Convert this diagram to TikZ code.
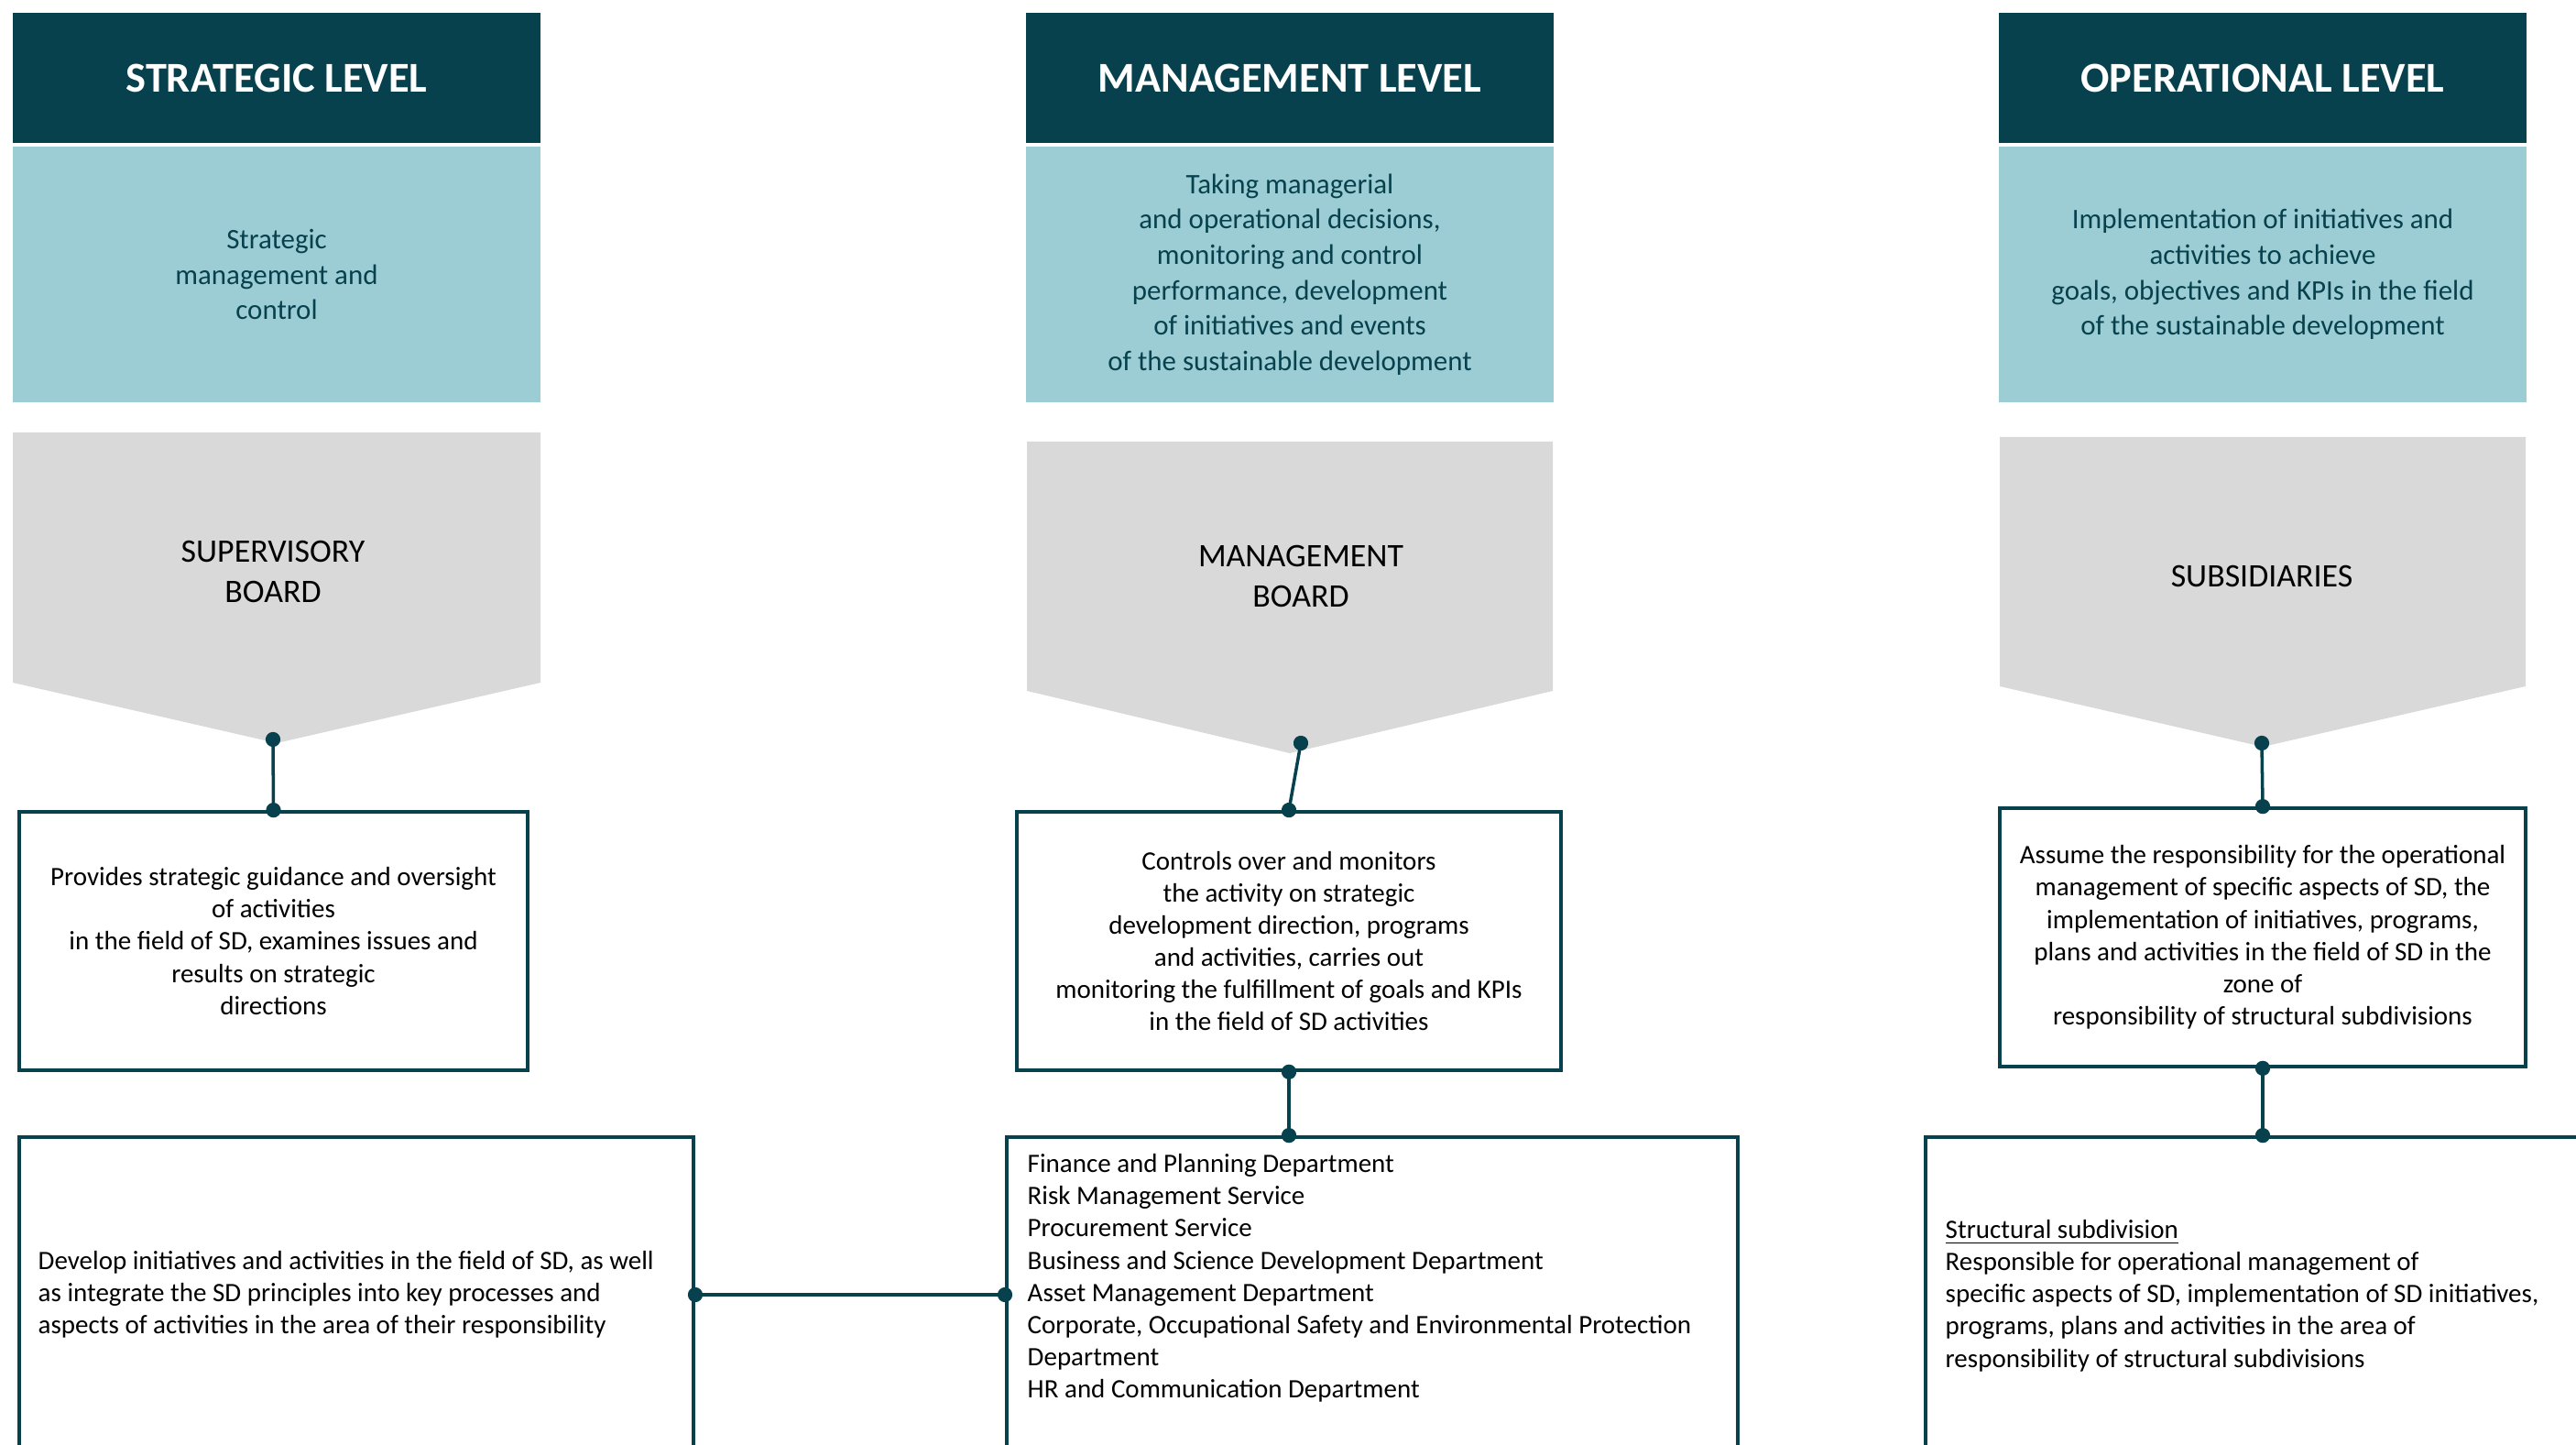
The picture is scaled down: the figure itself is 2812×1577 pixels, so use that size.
\documentclass[tikz,border=0pt]{standalone}
\usepackage{fontspec}
\setmainfont{Carlito}
\usetikzlibrary{arrows.meta,positioning}

\definecolor{darkteal}{HTML}{06414D}
\definecolor{lightteal}{HTML}{9DCDD4}
\definecolor{chevgray}{HTML}{D9D9D9}

\tikzset{
  levelhead/.style={fill=darkteal,text=white,minimum width=5.76cm,minimum height=1.42cm,
    font=\fontsize{13.2}{16}\selectfont\bfseries,inner sep=0pt},
  levelnote/.style={fill=lightteal,text=darkteal,minimum width=5.76cm,minimum height=2.79cm,
    align=center,font=\fontsize{8.8}{11}\selectfont,inner sep=0pt},
  boardname/.style={align=center,font=\fontsize{10.2}{12.4}\selectfont},
  rolebox/.style={draw=darkteal,line width=1pt,minimum height=2.82cm,align=center,
    font=\fontsize{8.25}{10}\selectfont,inner sep=0pt},
  unitbox/.style={draw=darkteal,line width=1pt,minimum height=3.44cm,inner sep=0pt},
  unittext/.style={align=left,font=\fontsize{8.25}{10}\selectfont,inner sep=0pt,anchor=west},
  link/.style={darkteal,line width=1pt,shorten <=-2.3pt,shorten >=-2.3pt,
    {Circle[length=4.6pt]}-{Circle[length=4.6pt]}}
}

\begin{document}
\begin{tikzpicture}[x=0.01cm,y=-0.01cm]
\useasboundingbox (0,0) rectangle (2812,1577);
\clip (0,0) rectangle (2812,1577);

% level headers
\node[levelhead] (headS) at (302,85) {STRATEGIC LEVEL};
\node[levelhead] (headM) at (1408,85) {MANAGEMENT LEVEL};
\node[levelhead] (headO) at (2470,85) {OPERATIONAL LEVEL};

\node[levelnote] (noteS) at (302,299.5) {Strategic\\ management and\\ control};
\node[levelnote] (noteM) at (1408,299.5) {Taking managerial\\ and operational decisions,\\ monitoring and control\\ performance, development\\ of initiatives and events\\ of the sustainable development};
\node[levelnote] (noteO) at (2470,299.5) {Implementation of initiatives and\\ activities to achieve\\ goals, objectives and KPIs in the field\\ of the sustainable development};

% boards
\fill[chevgray] (14,472) -- (590,472) -- (590,745) -- (302,811) -- (14,745) -- cycle;
\fill[chevgray] (1121,482) -- (1695,482) -- (1695,754) -- (1408,822) -- (1121,754) -- cycle;
\fill[chevgray] (2183,477) -- (2757,477) -- (2757,749) -- (2470,815) -- (2183,749) -- cycle;
\node[boardname] (boardS) at (298,624) {SUPERVISORY\\ BOARD};
\node[boardname] (boardM) at (1420,629) {MANAGEMENT\\ BOARD};
\node[boardname] (boardO) at (2469,629) {SUBSIDIARIES};
\coordinate (tipS) at (298,807);
\coordinate (tipM) at (1420,811);
\coordinate (tipO) at (2469,811);

% roles
\node[rolebox,minimum width=5.55cm] (roleS) at (298.5,1027) {Provides strategic guidance and oversight\\ of activities\\ in the field of SD, examines issues and\\ results on strategic\\ directions};
\node[rolebox,minimum width=5.94cm] (roleM) at (1407,1027) {Controls over and monitors\\ the activity on strategic\\ development direction, programs\\ and activities, carries out\\ monitoring the fulfillment of goals and KPIs\\ in the field of SD activities};
\node[rolebox,minimum width=5.74cm] (roleO) at (2470,1023) {Assume the responsibility for the operational\\ management of specific aspects of SD, the\\ implementation of initiatives, programs,\\ plans and activities in the field of SD in the\\ zone of\\ responsibility of structural subdivisions};

% units
\node[unitbox,minimum width=7.36cm] (unitS) at (389,1413) {};
\node[unitbox,minimum width=7.98cm] (unitM) at (1498,1413) {};
\node[unitbox,minimum width=7.50cm] (unitO) at (2477,1413) {};

\node[unittext] (unitStext) at (41,1413) {Develop initiatives and activities in the field of SD, as well\\ as integrate the SD principles into key processes and\\ aspects of activities in the area of their responsibility};
\node[unittext] (unitMtext) at (1121,1395) {Finance and Planning Department\\ Risk Management Service\\ Procurement Service\\ Business and Science Development Department\\ Asset Management Department\\ Corporate, Occupational Safety and Environmental Protection\\ Department\\ HR and Communication Department};
\node[unittext] (unitOtext) at (2123,1414) {\underline{Structural subdivision}\\ Responsible for operational management of\\ specific aspects of SD, implementation of SD initiatives,\\ programs, plans and activities in the area of\\ responsibility of structural subdivisions};

% links
\draw[link] (tipS) -- (roleS.north);
\draw[link] (tipM) -- (roleM.north);
\draw[link] (tipO) -- (roleO.north);
\draw[link] (roleM.south) -- (roleM.south |- unitM.north);
\draw[link] (roleO.south) -- (roleO.south |- unitO.north);
\draw[link] (unitS.east) -- (unitM.west);
\end{tikzpicture}
\end{document}
